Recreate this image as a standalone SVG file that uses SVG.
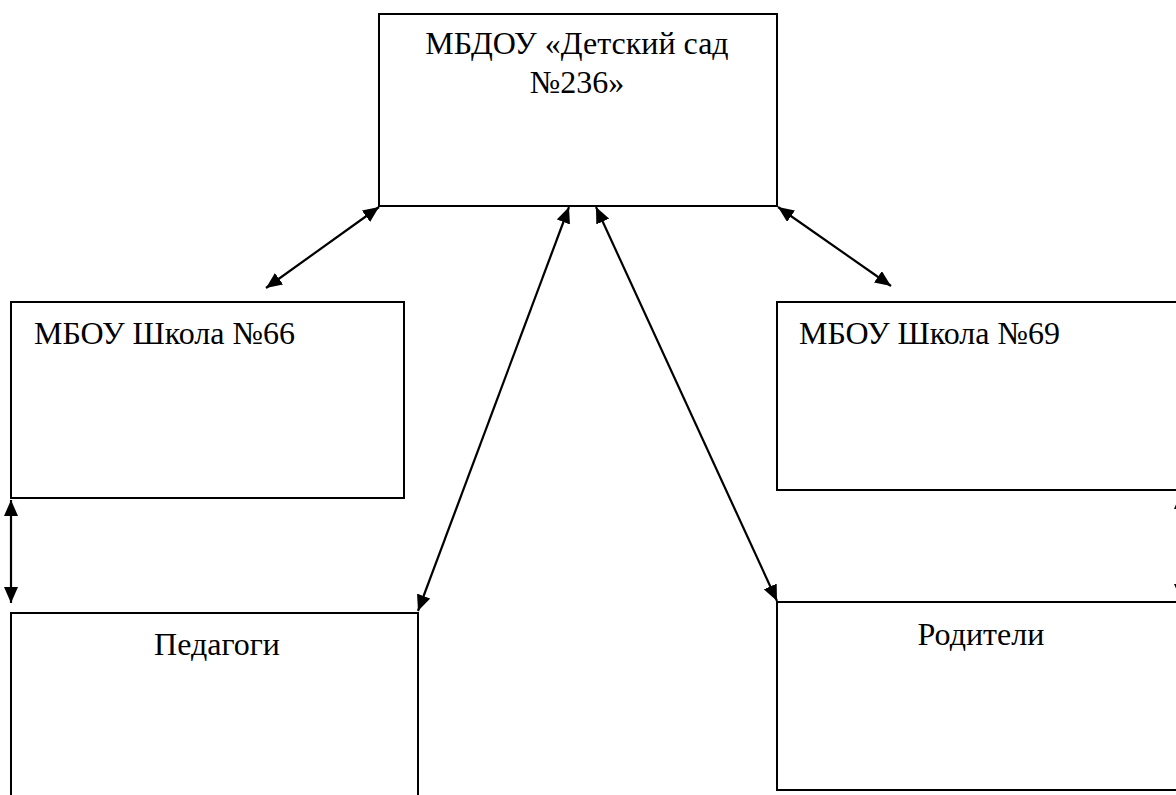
<svg xmlns="http://www.w3.org/2000/svg" width="1176" height="795" viewBox="0 0 1176 795">
<style>
.box{fill:#fff;stroke:#000;stroke-width:2}
.t{font-family:"Liberation Serif","Times New Roman",serif;font-size:32px;fill:#000}
.c{stroke:#000;stroke-width:2.2;fill:none;marker-start:url(#ah);marker-end:url(#ah)}
</style>
<defs>
<marker id="ah" viewBox="0 0 16 14" refX="16" refY="7" markerWidth="16" markerHeight="14" markerUnits="userSpaceOnUse" orient="auto-start-reverse">
<path d="M0,0 L16,7 L0,14 Z" fill="#000"/>
</marker>
</defs>
<rect width="1176" height="795" fill="#fff"/>
<g id="kindergarten">
<rect class="box" x="379" y="14" width="398" height="192"/>
<text class="t" x="577" y="54" text-anchor="middle">МБДОУ «Детский сад</text>
<text class="t" x="577" y="93" text-anchor="middle">№236»</text>
</g>
<g id="school66">
<rect class="box" x="11" y="302" width="393" height="196"/>
<text class="t" x="34" y="344">МБОУ Школа №66</text>
</g>
<g id="school69">
<rect class="box" x="777" y="302" width="410" height="188"/>
<text class="t" x="799" y="344">МБОУ Школа №69</text>
</g>
<g id="teachers">
<rect class="box" x="11" y="613" width="407" height="200"/>
<text class="t" x="217" y="655" text-anchor="middle">Педагоги</text>
</g>
<g id="parents">
<rect class="box" x="777" y="602" width="410" height="188"/>
<text class="t" x="981" y="645" text-anchor="middle">Родители</text>
</g>
<g id="connectors">
<line class="c" x1="379" y1="207" x2="266" y2="288"/>
<line class="c" x1="569" y1="207" x2="418" y2="611"/>
<line class="c" x1="596" y1="207" x2="777" y2="601"/>
<line class="c" x1="778" y1="207" x2="891" y2="286"/>
<line class="c" x1="11" y1="500" x2="11" y2="603"/>
<line class="c" x1="1181" y1="493" x2="1181" y2="600"/>
</g>
</svg>
